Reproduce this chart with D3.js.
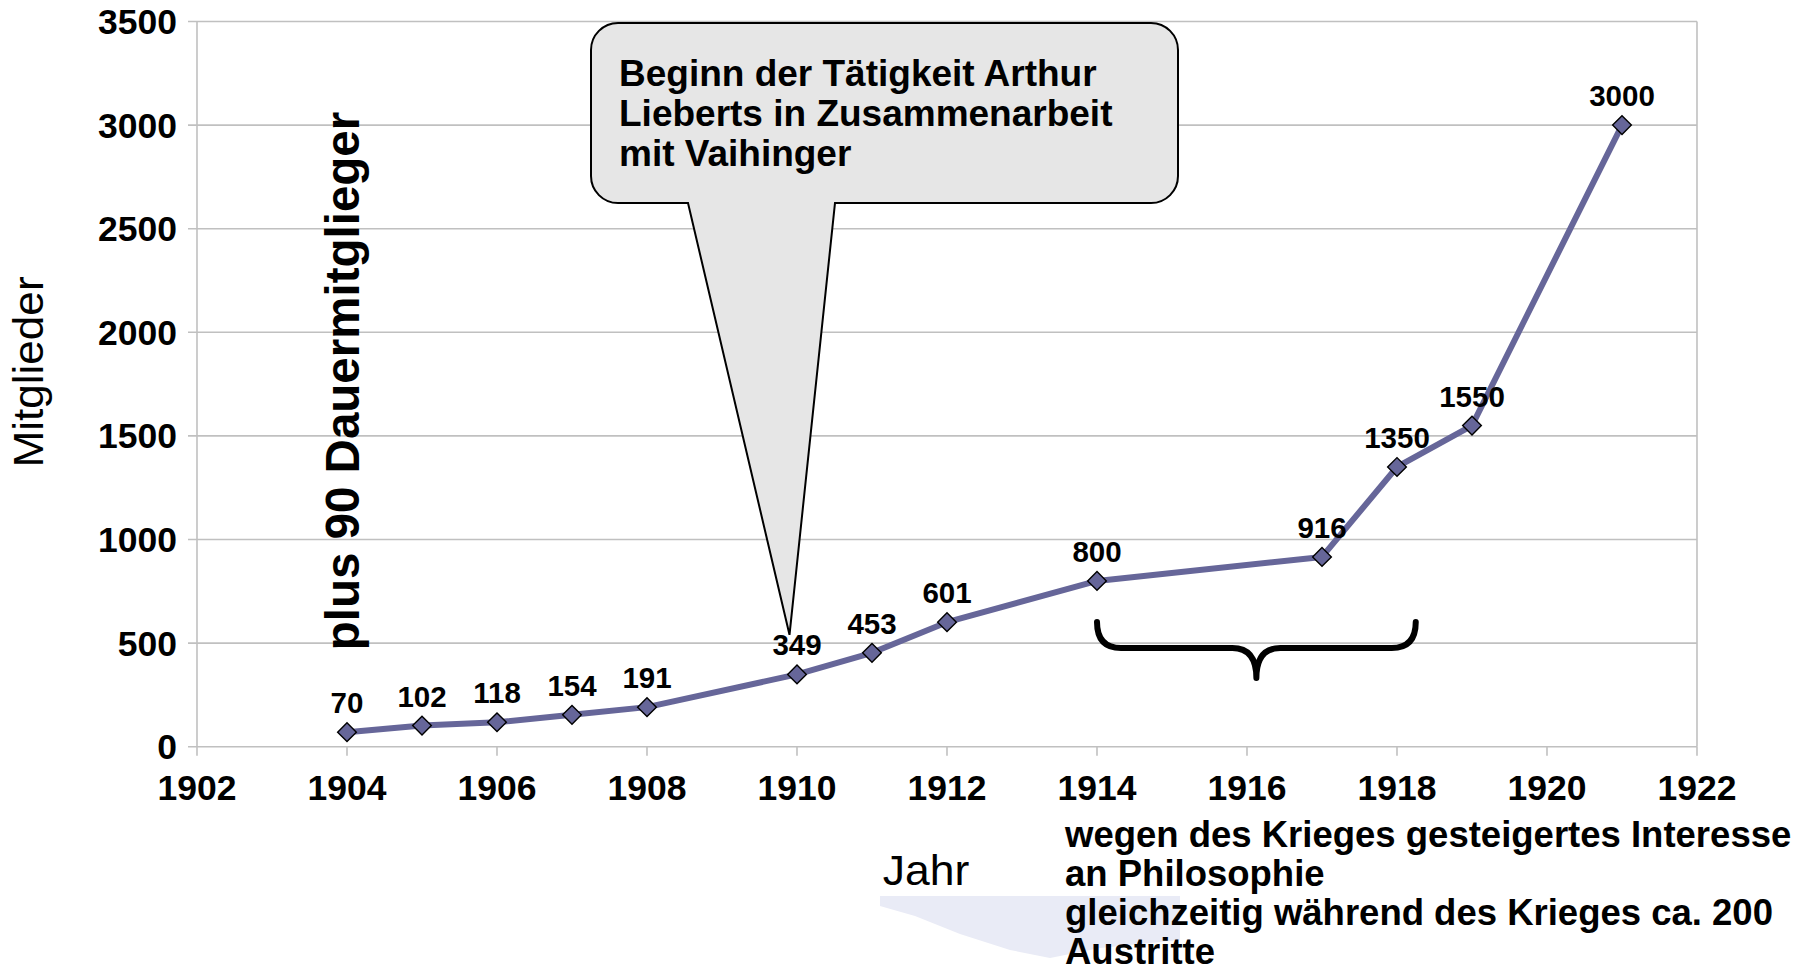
<!DOCTYPE html>
<html>
<head>
<meta charset="utf-8">
<script src="https://cdn.jsdelivr.net/npm/d3@7"></script>
<style>
body { margin: 0; background: #fff; }
text { font-family: "Liberation Sans", Arial, sans-serif; fill: #000; }
</style>
</head>
<body>
<svg id="svg" width="1820" height="973"></svg>
<script>
// data
var years = [1904, 1905, 1906, 1907, 1908, 1910, 1911, 1912, 1914, 1917, 1918, 1919, 1921];
var members = [70, 102, 118, 154, 191, 349, 453, 601, 800, 916, 1350, 1550, 3000];
var xTicks = [1902, 1904, 1906, 1908, 1910, 1912, 1914, 1916, 1918, 1920, 1922];
var yTicks = [0, 500, 1000, 1500, 2000, 2500, 3000, 3500];
var calloutLines = ["Beginn der Tätigkeit Arthur", "Lieberts in Zusammenarbeit", "mit Vaihinger"];
var noteLines = ["wegen des Krieges gesteigertes Interesse", "an Philosophie",
                 "gleichzeitig während des Krieges ca. 200", "Austritte"];
var sideNote = "plus 90 Dauermitglieger";
var braceYears = [1914, 1918.25];

var svg = d3.select("#svg");

var x = d3.scaleLinear().domain([1902, 1922]).range([197, 1697]);
var y = d3.scaleLinear().domain([0, 3500]).range([746.7, 21.5]);

var grid = "#c0c0c0";

// faint smudge under "Jahr"
svg.append("polygon")
    .attr("points", "880,896 1180,896 1180,940 1100,948 1050,958 1010,950 960,934 915,916 880,906")
    .attr("fill", "#e9ebf6");

// horizontal gridlines (with the little outward tick)
svg.selectAll("line.grid").data(yTicks).enter().append("line")
    .attr("class", "grid")
    .attr("x1", 188).attr("x2", x(1922))
    .attr("y1", function(d) { return y(d); })
    .attr("y2", function(d) { return y(d); })
    .attr("stroke", grid).attr("stroke-width", 1.6);

// left axis + right border
svg.append("line").attr("x1", x(1902)).attr("x2", x(1902)).attr("y1", y(3500)).attr("y2", y(0))
    .attr("stroke", grid).attr("stroke-width", 1.6);
svg.append("line").attr("x1", x(1922)).attr("x2", x(1922)).attr("y1", y(3500)).attr("y2", y(0))
    .attr("stroke", grid).attr("stroke-width", 1.6);

// x ticks
svg.selectAll("line.xt").data(xTicks).enter().append("line")
    .attr("class", "xt")
    .attr("x1", function(d) { return x(d); })
    .attr("x2", function(d) { return x(d); })
    .attr("y1", y(0)).attr("y2", y(0) + 9)
    .attr("stroke", grid).attr("stroke-width", 1.6);

// tick labels
svg.selectAll("text.yl").data(yTicks).enter().append("text")
    .attr("class", "yl")
    .attr("x", 177)
    .attr("y", function(d) { return y(d) + 12.5; })
    .attr("text-anchor", "end")
    .attr("font-size", 35.5).attr("font-weight", "bold")
    .text(function(d) { return d; });

svg.selectAll("text.xl").data(xTicks).enter().append("text")
    .attr("class", "xl")
    .attr("x", function(d) { return x(d); })
    .attr("y", 800)
    .attr("text-anchor", "middle")
    .attr("font-size", 35.5).attr("font-weight", "bold")
    .text(function(d) { return d; });

// axis titles
svg.append("text")
    .attr("transform", "translate(43,372) rotate(-90) scale(1.05,1)")
    .attr("text-anchor", "middle")
    .attr("font-size", 42)
    .text("Mitglieder");

svg.append("text")
    .attr("transform", "translate(926,885) scale(1.06,1)")
    .attr("text-anchor", "middle")
    .attr("font-size", 42)
    .text("Jahr");

// rotated side note
svg.append("text")
    .attr("transform", "translate(359,381) rotate(-90)")
    .attr("text-anchor", "middle")
    .attr("font-size", 47.5).attr("font-weight", "bold")
    .text(sideNote);

// the series
var pts = years.map(function(d, i) { return { yr: d, v: members[i] }; });

var line = d3.line()
    .x(function(d) { return x(d.yr); })
    .y(function(d) { return y(d.v); });

svg.append("path")
    .datum(pts)
    .attr("d", line)
    .attr("fill", "none")
    .attr("stroke", "#666699")
    .attr("stroke-width", 6)
    .attr("stroke-linejoin", "round");

svg.selectAll("path.mk").data(pts).enter().append("path")
    .attr("class", "mk")
    .attr("d", d3.symbol().type(d3.symbolSquare).size(175))
    .attr("transform", function(d) { return "translate(" + x(d.yr) + "," + y(d.v) + ") rotate(45)"; })
    .attr("fill", "#666699")
    .attr("stroke", "#000")
    .attr("stroke-width", 1.4);

svg.selectAll("text.dl").data(pts).enter().append("text")
    .attr("class", "dl")
    .attr("x", function(d) { return x(d.yr); })
    .attr("y", function(d) { return y(d.v) - 19; })
    .attr("text-anchor", "middle")
    .attr("font-size", 29.5).attr("font-weight", "bold")
    .text(function(d) { return d.v; });

// callout bubble pointing at 1910
var bx0 = 591, by0 = 23, bx1 = 1178, by1 = 203, r = 27;
var tipX = x(1909.9), tipY = y(540);
var bubble = "M" + (bx0 + r) + "," + by0 +
    " H" + (bx1 - r) + " A" + r + "," + r + " 0 0 1 " + bx1 + "," + (by0 + r) +
    " V" + (by1 - r) + " A" + r + "," + r + " 0 0 1 " + (bx1 - r) + "," + by1 +
    " H835 L" + tipX + "," + tipY + " L688," + by1 +
    " H" + (bx0 + r) + " A" + r + "," + r + " 0 0 1 " + bx0 + "," + (by1 - r) +
    " V" + (by0 + r) + " A" + r + "," + r + " 0 0 1 " + (bx0 + r) + "," + by0 + " Z";
svg.append("path")
    .attr("d", bubble)
    .attr("fill", "#e6e6e6")
    .attr("stroke", "#000")
    .attr("stroke-width", 2);

svg.selectAll("text.co").data(calloutLines).enter().append("text")
    .attr("class", "co")
    .attr("x", 619)
    .attr("y", function(d, i) { return 86 + i * 40; })
    .attr("font-size", 37).attr("font-weight", "bold")
    .text(function(d) { return d; });

// curly brace over the war years
var b0 = x(braceYears[0]), b1 = x(braceYears[1]), bm = (b0 + b1) / 2;
var bt = 622, bh = 648, bp = 678, rr = 24;
var brace = "M" + b0 + "," + bt +
    " Q" + b0 + "," + bh + " " + (b0 + rr) + "," + bh +
    " H" + (bm - rr) +
    " Q" + bm + "," + bh + " " + bm + "," + bp +
    " Q" + bm + "," + bh + " " + (bm + rr) + "," + bh +
    " H" + (b1 - rr) +
    " Q" + b1 + "," + bh + " " + b1 + "," + bt;
svg.append("path")
    .attr("d", brace)
    .attr("fill", "none")
    .attr("stroke", "#000")
    .attr("stroke-width", 6)
    .attr("stroke-linecap", "round")
    .attr("stroke-linejoin", "round");

// note under the chart
svg.selectAll("text.nt").data(noteLines).enter().append("text")
    .attr("class", "nt")
    .attr("x", 1065)
    .attr("y", function(d, i) { return 847 + i * 39; })
    .attr("font-size", 36.5).attr("font-weight", "bold")
    .text(function(d) { return d; });
</script>
</body>
</html>
